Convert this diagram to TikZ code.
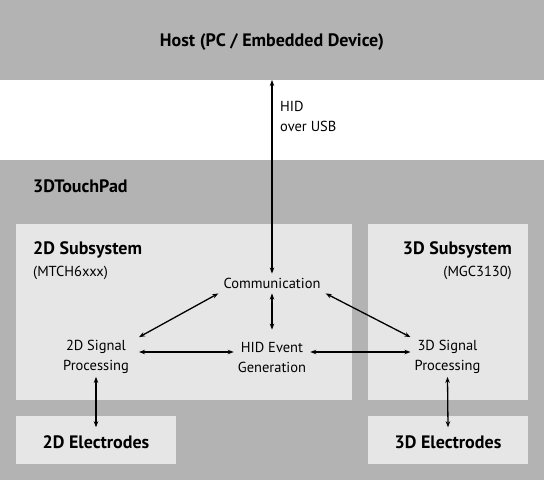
\documentclass[tikz,border=0pt]{standalone}
\usepackage{fontspec}
\setmainfont{PT Sans}
\usetikzlibrary{arrows.meta}
\definecolor{dgray}{HTML}{B3B3B3}
\definecolor{lgray}{HTML}{E6E6E6}
\tikzset{
  x=1pt,y=1pt,
  lbl/.style={inner sep=0pt, font=\fontsize{14.5}{20}\selectfont, align=center},
  ttl/.style={inner sep=0pt, font=\bfseries\fontsize{18}{20}\selectfont},
  sub/.style={inner sep=0pt, font=\fontsize{14.5}{20}\selectfont},
  arr/.style={line width=1.3pt, {Stealth[length=6pt,width=4.5pt]}-{Stealth[length=6pt,width=4.5pt]}},
}
\begin{document}
\begin{tikzpicture}
\useasboundingbox (0,0) rectangle (544,-480);
% bands
\fill[dgray] (0,0) rectangle (544,-80);
\fill[dgray] (0,-160) rectangle (544,-480);
\fill[lgray] (16,-224) rectangle (352,-400);
\fill[lgray] (368,-224) rectangle (528,-400);
\fill[lgray] (16,-416) rectangle (176,-464);
\fill[lgray] (368,-416) rectangle (528,-464);
\coordinate (hostbot) at (272,-80);
\node[ttl] (host) at (272,-42) {Host (PC / Embedded Device)};
\node[lbl, anchor=north west, align=left] (usb) at (280,-101) {HID\\over USB};
\node[ttl, anchor=west] (tp) at (33,-186) {3DTouchPad};
\node[ttl, anchor=west] (s2d) at (33,-250) {2D Subsystem};
\node[sub, anchor=west] (m2d) at (33,-273) {(MTCH6xxx)};
\node[ttl, anchor=east] (s3d) at (512,-250) {3D Subsystem};
\node[sub, anchor=east] (m3d) at (512,-273) {(MGC3130)};
\node[lbl] (comm) at (272,-283) {Communication};
\node[lbl] (sig2d) at (96,-357) {2D Signal\\Processing};
\node[lbl] (hid) at (272,-357) {HID Event\\Generation};
\node[lbl] (sig3d) at (447.5,-357) {3D Signal\\Processing};
\node[ttl] (el2d) at (96,-442) {2D Electrodes};
\node[ttl] (el3d) at (448,-442) {3D Electrodes};
% connectors
\draw[arr] (hostbot) -- ([yshift=4pt]comm.north);
\draw[arr] ([yshift=-5pt]comm.south) -- ([yshift=12pt]hid.north);
\draw[arr] ([xshift=-5pt,yshift=-5pt]comm.south west) -- ([xshift=10pt,yshift=3pt]sig2d.north east);
\draw[arr] ([xshift=5pt,yshift=-5pt]comm.south east) -- ([xshift=-4pt,yshift=3pt]sig3d.north west);
\draw[arr] ([xshift=10pt,yshift=5pt]sig2d.east) -- ([xshift=-4pt,yshift=5pt]hid.west);
\draw[arr] ([xshift=4pt,yshift=5pt]hid.east) -- ([xshift=-4pt,yshift=5pt]sig3d.west);
\draw[arr] ([yshift=-3pt]sig2d.south) -- ([yshift=8pt]el2d.north);
\draw[arr] ([yshift=-3pt]sig3d.south) -- ([yshift=8pt]el3d.north);
\end{tikzpicture}
\end{document}
